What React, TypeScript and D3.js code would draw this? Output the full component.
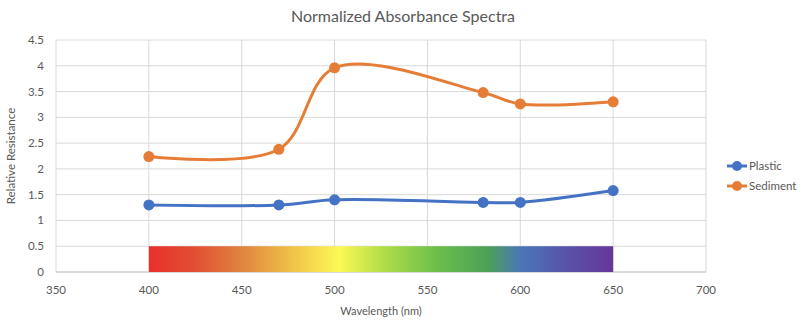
import React from "react";
import * as d3 from "d3";

const wavelengths = [400, 470, 500, 580, 600, 650];
const plastic = [1.3, 1.3, 1.4, 1.35, 1.35, 1.58];
const sediment = [2.24, 2.38, 3.96, 3.48, 3.26, 3.3];
const xTicks = [350, 400, 450, 500, 550, 600, 650, 700];
const yTicks = [0, 0.5, 1, 1.5, 2, 2.5, 3, 3.5, 4, 4.5];
const spectrumRange = [400, 650];
const spectrumHeight = 0.5;
const spectrumStops = [
  { o: 0, c: "#e8302a" },
  { o: 0.1, c: "#e24f33" },
  { o: 0.2, c: "#e0843f" },
  { o: 0.32, c: "#f2c84a" },
  { o: 0.41, c: "#fdf955" },
  { o: 0.5, c: "#b5de48" },
  { o: 0.62, c: "#6cbf4a" },
  { o: 0.73, c: "#4ca157" },
  { o: 0.8, c: "#4a77b8" },
  { o: 0.9, c: "#5852a8" },
  { o: 1, c: "#66379a" },
];

const series = [
  { name: "Plastic", values: plastic, color: "#4472c4" },
  { name: "Sediment", values: sediment, color: "#e67d36" },
];

export default function App() {
  const W = 806, H = 325;
  const left = 56, right = 706, top = 40, bottom = 272;
  const x = d3.scaleLinear().domain([350, 700]).range([left, right]);
  const y = d3.scaleLinear().domain([0, 4.5]).range([bottom, top]);
  const line = d3
    .line<number>()
    .x((_, i) => x(wavelengths[i]))
    .y((d) => y(d))
    .curve(d3.curveCatmullRom.alpha(0.5));
  const font = "Lato, 'Open Sans', sans-serif";
  const textColor = "#595959";
  return (
    <svg width={W} height={H} style={{ position: "absolute", left: 0, top: 0, fontFamily: font }}>
      <defs>
        <linearGradient id="spec" x1="0" x2="1" y1="0" y2="0">
          {spectrumStops.map((s, i) => (
            <stop key={i} offset={s.o} stopColor={s.c} />
          ))}
        </linearGradient>
      </defs>
      <rect width={W} height={H} fill="#fff" />
      <text x={403} y={22} textAnchor="middle" fontSize={16} fill={textColor}>
        Normalized Absorbance Spectra
      </text>
      {yTicks.map((t) => (
        <g key={"y" + t}>
          <line x1={left} x2={right} y1={y(t)} y2={y(t)} stroke="#d9d9d9" strokeWidth={1} />
          <text x={44} y={y(t) + 4} textAnchor="end" fontSize={11.5} fill={textColor}>
            {t}
          </text>
        </g>
      ))}
      {xTicks.map((t) => (
        <g key={"x" + t}>
          <line x1={x(t)} x2={x(t)} y1={top} y2={bottom} stroke="#d9d9d9" strokeWidth={1} />
          <text x={x(t)} y={bottom + 22} textAnchor="middle" fontSize={11.5} fill={textColor}>
            {t}
          </text>
        </g>
      ))}
      <line x1={left} x2={right} y1={bottom} y2={bottom} stroke="#c8c8c8" strokeWidth={1} />
      <rect
        x={x(spectrumRange[0])}
        y={y(spectrumHeight)}
        width={x(spectrumRange[1]) - x(spectrumRange[0])}
        height={y(0) - y(spectrumHeight)}
        fill="url(#spec)"
      />
      {series.map((s) => (
        <g key={s.name}>
          <path d={line(s.values) || ""} fill="none" stroke={s.color} strokeWidth={3} />
          {s.values.map((v, i) => (
            <circle key={i} cx={x(wavelengths[i])} cy={y(v)} r={5.5} fill={s.color} />
          ))}
        </g>
      ))}
      <text x={381} y={315} textAnchor="middle" fontSize={11} fill={textColor}>
        Wavelength (nm)
      </text>
      <text
        transform={`translate(15,${(top + bottom) / 2}) rotate(-90)`}
        textAnchor="middle"
        fontSize={11.5}
        fill={textColor}
      >
        Relative Resistance
      </text>
      {series.map((s, i) => (
        <g key={"lg" + s.name} transform={`translate(0,${166 + i * 20})`}>
          <line x1={727} x2={747} y1={0} y2={0} stroke={s.color} strokeWidth={3} />
          <circle cx={737} cy={0} r={5} fill={s.color} />
          <text x={749} y={4} fontSize={11.5} fill={textColor}>
            {s.name}
          </text>
        </g>
      ))}
    </svg>
  );
}
